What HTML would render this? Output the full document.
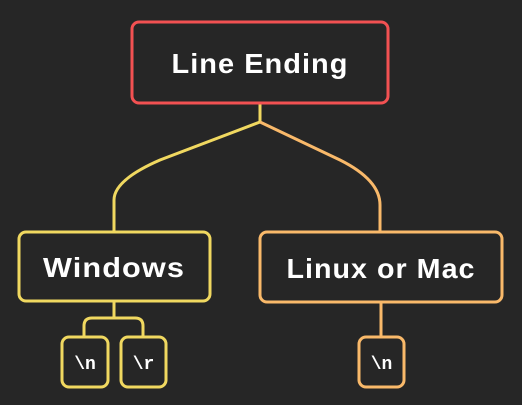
<!DOCTYPE html>
<html><head><meta charset="utf-8"><style>
html,body{margin:0;padding:0;background:#262626;}
svg{display:block}
text{font-family:"Liberation Sans",sans-serif;font-weight:bold;fill:#fff}
.b{font-size:28px;letter-spacing:1px}
.m{font-family:"Liberation Mono",monospace;font-size:18px}
</style></head><body>
<svg width="522" height="405" viewBox="0 0 522 405" xmlns="http://www.w3.org/2000/svg">
<rect width="522" height="405" fill="#262626"/>
<g fill="none" stroke-width="3">
<path d="M260 104 V122" stroke="#f0d860"/>
<path d="M260 122 L160 160 Q114 180 114 200 V231" stroke="#f0d860"/>
<path d="M260 122 L340 160 Q380 180 380 205 V231" stroke="#f9b96a"/>
<path d="M114 302 V318 M84 336 V326 Q84 318 92 318 H135 Q143 318 143 326 V336" stroke="#f0d860"/>
<path d="M381 303 V336" stroke="#f9b96a"/>
<rect x="132" y="22" width="256" height="81" rx="7" stroke="#f25152"/>
<rect x="19" y="232" width="191" height="69" rx="7" stroke="#f0d860"/>
<rect x="260" y="232" width="242" height="70" rx="7" stroke="#f9b96a"/>
<rect x="62" y="337" width="46" height="50" rx="7" stroke="#f0d860"/>
<rect x="121" y="337" width="45" height="50" rx="7" stroke="#f0d860"/>
<rect x="359" y="337" width="45" height="50" rx="7" stroke="#f9b96a"/>
</g>
<text class="b" x="260" y="73" text-anchor="middle" textLength="177" lengthAdjust="spacingAndGlyphs">Line Ending</text>
<text class="b" x="114" y="277" text-anchor="middle" textLength="142" lengthAdjust="spacingAndGlyphs">Windows</text>
<text class="b" x="381" y="278" text-anchor="middle" textLength="189" lengthAdjust="spacingAndGlyphs">Linux or Mac</text>
<text class="m" x="85" y="369" text-anchor="middle">\n</text>
<text class="m" x="143.5" y="369" text-anchor="middle">\r</text>
<text class="m" x="381.5" y="369" text-anchor="middle">\n</text>
</svg>
</body></html>
